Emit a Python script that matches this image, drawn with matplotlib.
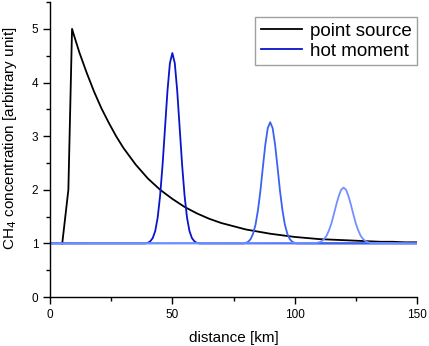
import matplotlib
matplotlib.use("Agg")
import matplotlib.pyplot as plt
from matplotlib.ticker import MultipleLocator

plt.rcParams['font.family'] = ['Liberation Sans', 'DejaVu Sans']

# point source series (distance km, concentration)
ps_x = [5, 7.5, 9, 10, 12, 15, 18, 21, 24, 27, 30, 35, 40, 45, 50, 55, 60, 65,
        70, 75, 80, 85, 90, 95, 100, 105, 110, 115, 120, 125, 130, 135, 140, 145, 150]
ps_y = [1.00, 2.00, 5.00, 4.85, 4.56, 4.18, 3.83, 3.52, 3.25, 3.00, 2.78, 2.47, 2.21,
        2.00, 1.83, 1.68, 1.56, 1.46, 1.38, 1.32, 1.26, 1.22, 1.18, 1.15, 1.12, 1.10,
        1.08, 1.07, 1.06, 1.05, 1.04, 1.03, 1.03, 1.02, 1.02]

# hot moment pulses (offsets from centre in km)
hm_offsets = [-11, -10, -9, -8, -7, -6, -5, -4, -3, -2, -1, 0,
              1, 2, 3, 4, 5, 6, 7, 8, 9, 10, 11]
hm_centres = [50, 90, 120]
hm1_y = [1.00, 1.01, 1.04, 1.10, 1.23, 1.48, 1.89, 2.46, 3.15, 3.84, 4.36, 4.55,
         4.36, 3.84, 3.15, 2.46, 1.89, 1.48, 1.23, 1.10, 1.04, 1.01, 1.00]
hm2_y = [1.00, 1.01, 1.03, 1.08, 1.18, 1.35, 1.62, 1.98, 2.42, 2.84, 3.15, 3.26,
         3.15, 2.84, 2.42, 1.98, 1.62, 1.35, 1.18, 1.08, 1.03, 1.01, 1.00]
hm3_y = [1.01, 1.02, 1.04, 1.08, 1.14, 1.24, 1.37, 1.54, 1.72, 1.88, 2.00, 2.04,
         2.00, 1.88, 1.72, 1.54, 1.37, 1.24, 1.14, 1.08, 1.04, 1.02, 1.01]
baseline = 1.0
x_range = [0, 150]

hm_colors = ['#0a14c8', '#3c62f4', '#7090ff']

fig = plt.figure(figsize=(4.29, 3.46), dpi=100)
ax = fig.add_axes([0.1166, 0.1416, 0.8554, 0.8524])

ax.plot(ps_x, ps_y, color='black', lw=1.3, label='point source')

for i, (c, ys) in enumerate(zip(hm_centres, [hm1_y, hm2_y, hm3_y])):
    xs = [x_range[0]] + [c + o for o in hm_offsets] + [x_range[1]]
    yy = [baseline] + ys + [baseline]
    ax.plot(xs, yy, color=hm_colors[i], lw=1.3,
            label='hot moment' if i == 0 else None)

ax.set_xlim(0, 150)
ax.set_ylim(0, 5.5)
ax.xaxis.set_major_locator(MultipleLocator(50))
ax.xaxis.set_minor_locator(MultipleLocator(25))
ax.yaxis.set_major_locator(MultipleLocator(1))
ax.yaxis.set_minor_locator(MultipleLocator(0.5))
ax.tick_params(which='major', direction='out', length=5, width=1, labelsize=8.5)
ax.tick_params(which='minor', direction='out', length=3, width=1)
for s in ['top', 'right']:
    ax.spines[s].set_visible(False)
for s in ['left', 'bottom']:
    ax.spines[s].set_linewidth(1)

ax.set_xlabel('distance [km]', fontsize=11, labelpad=7)
ax.set_ylabel('CH$_4$ concentration [arbitrary unit]', fontsize=11)
ax.yaxis.set_label_coords(-0.085, 0.54)

leg = ax.legend(loc='upper right', bbox_to_anchor=(1.0, 0.949), fontsize=13.5,
                frameon=True, fancybox=False, edgecolor='#888888',
                handlelength=2.2, handletextpad=0.4, borderpad=0.3,
                labelspacing=0.15, borderaxespad=0)
leg.get_frame().set_linewidth(1)

fig.savefig('out.png', dpi=100)
